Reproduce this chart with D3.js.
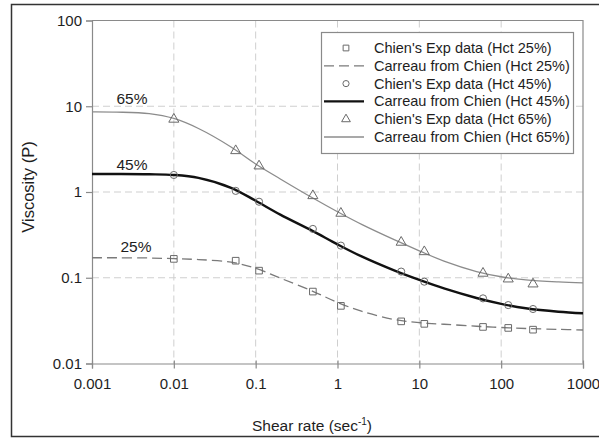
<!DOCTYPE html>
<html>
<head>
<meta charset="utf-8">
<script src="https://cdn.jsdelivr.net/npm/d3@7"></script>
<style>
  html, body { margin: 0; padding: 0; background: #fff; }
  svg { display: block; font-family: "Liberation Sans", Arial, sans-serif; }
</style>
</head>
<body>
<svg id="chart" width="599" height="439"></svg>
<script>
// Shear rates of the experimental measurements (1/s)
const shearExp = [0.01, 0.057, 0.11, 0.5, 1.1, 6, 11.5, 60, 122, 245];
// Measured viscosities (P) for each haematocrit
const expHct25 = [0.166, 0.158, 0.121, 0.069, 0.047, 0.031, 0.029, 0.0267, 0.026, 0.0248];
const expHct45 = [1.58, 1.03, 0.77, 0.371, 0.237, 0.118, 0.09, 0.0575, 0.048, 0.0432];
const expHct65 = [7.05, 3.03, 2.01, 0.905, 0.564, 0.259, 0.201, 0.1127, 0.0966, 0.0845];

// Carreau fitted curves sampled along the shear-rate range
const shearFit = [0.001, 0.002, 0.005, 0.01, 0.02, 0.05, 0.1, 0.2, 0.5, 1, 2, 5, 10, 20, 50, 100, 200, 500, 1000];
const fitHct25 = [0.171, 0.171, 0.170, 0.167, 0.163, 0.152, 0.129, 0.099, 0.0695, 0.0515, 0.0405, 0.0325, 0.0299, 0.0287, 0.0272, 0.0263, 0.0256, 0.0250, 0.0246];
const fitHct45 = [1.62, 1.62, 1.61, 1.58, 1.46, 1.12, 0.79, 0.545, 0.35, 0.245, 0.176, 0.121, 0.0943, 0.0751, 0.0581, 0.0496, 0.0441, 0.0402, 0.0386];
const fitHct65 = [8.6, 8.55, 8.2, 7.2, 5.5, 3.35, 2.12, 1.42, 0.85, 0.588, 0.416, 0.276, 0.206, 0.156, 0.118, 0.1027, 0.0945, 0.0894, 0.0872];

const xTicks = [0.001, 0.01, 0.1, 1, 10, 100, 1000];
const yTicks = [0.01, 0.1, 1, 10, 100];
const xTickLabels = ["0.001", "0.01", "0.1", "1", "10", "100", "1000"];
const yTickLabels = ["0.01", "0.1", "1", "10", "100"];

const curveLabels = ["25%", "45%", "65%"];
const legendLabels = [
  "Chien's Exp data (Hct 25%)",
  "Carreau from Chien (Hct 25%)",
  "Chien's Exp data (Hct 45%)",
  "Carreau from Chien (Hct 45%)",
  "Chien's Exp data (Hct 65%)",
  "Carreau from Chien (Hct 65%)"
];

const svg = d3.select("#chart");
const plot = { left: 92, right: 583, top: 20.5, bottom: 363.5 };

const x = d3.scaleLog().domain([0.001, 1000]).range([plot.left, plot.right]);
const y = d3.scaleLog().domain([0.01, 100]).range([plot.bottom, plot.top]);

const axisColor = "#8a8a8a";
const markColor = "#6a6a6a";
const textColor = "#1e1e1e";

// outer frame
svg.append("rect")
  .attr("x", 11.5).attr("y", 4.5).attr("width", 600).attr("height", 432)
  .attr("fill", "none").attr("stroke", "#333").attr("stroke-width", 1.5);

// dashed grid at each decade
const grid = svg.append("g").attr("stroke", "#cfcfcf").attr("stroke-width", 1).attr("stroke-dasharray", "7,4");
grid.selectAll("line.gx").data(xTicks.slice(1, -1)).join("line")
  .attr("x1", d => x(d)).attr("x2", d => x(d))
  .attr("y1", plot.top).attr("y2", plot.bottom);
grid.selectAll("line.gy").data(yTicks.slice(1, -1)).join("line")
  .attr("x1", plot.left).attr("x2", plot.right)
  .attr("y1", d => y(d)).attr("y2", d => y(d));

// plot border (top and right)
svg.append("path")
  .attr("d", `M${plot.left},${plot.top}H${plot.right}V${plot.bottom}`)
  .attr("fill", "none").attr("stroke", axisColor).attr("stroke-width", 1.2);

// axes
const xAxis = d3.axisBottom(x).tickValues(xTicks).tickFormat((d, i) => xTickLabels[i]).tickSize(5).tickPadding(10);
const yAxis = d3.axisLeft(y).tickValues(yTicks).tickFormat((d, i) => yTickLabels[i]).tickSize(6).tickPadding(4);

const gx = svg.append("g").attr("transform", `translate(0,${plot.bottom})`).call(xAxis);
const gy = svg.append("g").attr("transform", `translate(${plot.left},0)`).call(yAxis);
[gx, gy].forEach(g => {
  g.select(".domain").attr("stroke", axisColor).attr("stroke-width", 1.2);
  g.selectAll(".tick line").attr("stroke", axisColor).attr("stroke-width", 1.2);
  g.selectAll(".tick text").attr("fill", textColor).attr("font-size", 15)
    .attr("font-family", "'Liberation Sans', Arial, sans-serif");
});
gx.selectAll(".tick line").attr("y1", -3);

// axis titles
const xTitle = svg.append("text")
  .attr("x", 312).attr("y", 431)
  .attr("text-anchor", "middle").attr("font-size", 15.5).attr("fill", textColor);
xTitle.append("tspan").text("Shear rate (sec");
xTitle.append("tspan").attr("font-size", 10).attr("dy", -6).text("-1");
xTitle.append("tspan").attr("dy", 6).text(")");

svg.append("text")
  .attr("transform", `translate(34,187) rotate(-90)`)
  .attr("text-anchor", "middle").attr("font-size", 16.5).attr("fill", textColor)
  .text("Viscosity (P)");

// fitted curves
const line = d3.line().x(d => x(d[0])).y(d => y(d[1])).curve(d3.curveCatmullRom.alpha(0.5));
const series = [
  { fit: fitHct25, exp: expHct25, stroke: "#7a7a7a", width: 1.3, dash: "10,5", symbol: d3.symbolSquare, size: 44 },
  { fit: fitHct45, exp: expHct45, stroke: "#111", width: 2.4, dash: null, symbol: d3.symbolCircle, size: 40 },
  { fit: fitHct65, exp: expHct65, stroke: "#8c8c8c", width: 1.3, dash: null, symbol: d3.symbolTriangle, size: 44 }
];

series.forEach(s => {
  svg.append("path")
    .datum(shearFit.map((g, i) => [g, s.fit[i]]))
    .attr("d", line)
    .attr("fill", "none").attr("stroke", s.stroke).attr("stroke-width", s.width)
    .attr("stroke-dasharray", s.dash);
});

// experimental markers
series.forEach(s => {
  const sym = d3.symbol().type(s.symbol).size(s.size);
  svg.append("g").selectAll("path")
    .data(shearExp.map((g, i) => [g, s.exp[i]]))
    .join("path")
    .attr("transform", d => `translate(${x(d[0])},${y(d[1])})`)
    .attr("d", sym)
    .attr("fill", "none").attr("stroke", markColor).attr("stroke-width", 1);
});

// haematocrit labels over the plateaus
const plateaus = [fitHct25[0], fitHct45[0], fitHct65[0]];
const labelX = [136, 132, 132];
const labelGap = [6, 4.5, 7.5];
curveLabels.forEach((t, i) => {
  svg.append("text")
    .attr("x", labelX[i]).attr("y", y(plateaus[i]) - labelGap[i])
    .attr("text-anchor", "middle").attr("font-size", 15.5).attr("fill", textColor)
    .text(t);
});

// legend
const lg = svg.append("g");
lg.append("rect")
  .attr("x", 321.5).attr("y", 32.5).attr("width", 252).attr("height", 121)
  .attr("fill", "#fff").attr("stroke", axisColor).attr("stroke-width", 1.2);

legendLabels.forEach((t, i) => {
  const s = series[Math.floor(i / 2)];
  const cy = 48 + i * 17.8;
  if (i % 2 === 0) {
    lg.append("path")
      .attr("transform", `translate(346,${cy})`)
      .attr("d", d3.symbol().type(s.symbol).size(s.size * 0.75)())
      .attr("fill", "none").attr("stroke", markColor).attr("stroke-width", 1);
  } else {
    lg.append("line")
      .attr("x1", 324).attr("x2", 364).attr("y1", cy).attr("y2", cy)
      .attr("stroke", s.stroke).attr("stroke-width", s.width)
      .attr("stroke-dasharray", s.dash);
  }
  lg.append("text")
    .attr("x", 374).attr("y", cy + 5)
    .attr("font-size", 14.5).attr("fill", textColor)
    .text(t);
});
</script>
</body>
</html>
